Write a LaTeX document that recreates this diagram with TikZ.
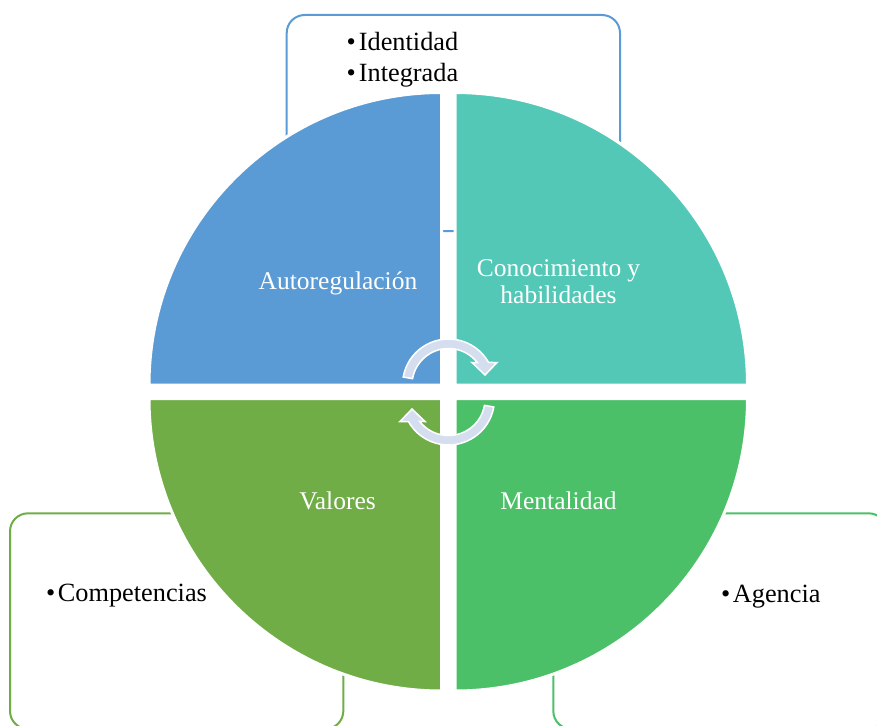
\documentclass[tikz,border=0pt]{standalone}
\usepackage{fontspec}
\setmainfont{Liberation Serif}
\usetikzlibrary{calc}
\definecolor{blueQ}{RGB}{91,155,213}
\definecolor{tealQ}{RGB}{83,200,183}
\definecolor{greenQ}{RGB}{112,173,71}
\definecolor{mentQ}{RGB}{75,192,104}
\definecolor{arrowc}{RGB}{213,222,239}
\tikzset{
  quad/.style={draw=white, line width=3pt},
  sidebox/.style={fill=white, line width=2pt, rounded corners=18pt},
  lbl/.style={inner sep=0pt, font=\fontsize{25.5}{30}\selectfont},
  blbl/.style={inner sep=0pt, font=\fontsize{26.3}{30}\selectfont},
  wlbl/.style={lbl, text=white},
  arrowfill/.style={fill=arrowc, draw=white, line width=1.5pt, line join=miter},
  cyclearrow/.pic={
    \path[arrowfill] (-170:46) arc[start angle=-170,end angle=-29.3,radius=46]
      -- (48.5,-22.5) -- (36.5,-10) -- (23.5,-22.5)
      -- (-38:36.5) arc[start angle=-38,end angle=-170,radius=36.5] -- cycle;
  }
}
\begin{document}
\begin{tikzpicture}[x=1pt,y=-1pt]
\useasboundingbox (0,0) rectangle (877,725);
\clip (0,0) rectangle (877,725);
% side boxes
\draw[sidebox, draw=blueQ] (286.7,15) rectangle (620,231);
\draw[sidebox, draw=greenQ] (10,513.3) rectangle (343.3,729);
\draw[sidebox, draw=mentQ] (553.3,513.3) rectangle (886.6,729);
% quadrants
\coordinate (cB) at (441.5,385);
\coordinate (cT) at (455,385);
\coordinate (cG) at (441.5,398.5);
\coordinate (cM) at (455,398.5);
\fill[quad, fill=blueQ] (cB) -- ($(cB)+(180:292.5)$) arc[start angle=180,end angle=270,radius=292.5] -- cycle;
\fill[quad, fill=tealQ] (cT) -- ($(cT)+(270:292.5)$) arc[start angle=270,end angle=360,radius=292.5] -- cycle;
\fill[quad, fill=greenQ] (cG) -- ($(cG)+(90:292.5)$) arc[start angle=90,end angle=180,radius=292.5] -- cycle;
\fill[quad, fill=mentQ] (cM) -- ($(cM)+(0:292.5)$) arc[start angle=0,end angle=90,radius=292.5] -- cycle;
% cycle arrows
\pic at (448.5,385) {cyclearrow};
\pic[rotate=180] at (448.5,399) {cyclearrow};
% labels
\node[wlbl, anchor=base] (auto) at (338,289.3) {Autoregulación};
\node[wlbl, anchor=base] (con1) at (558.5,276.7) {Conocimiento\hspace{6pt}y};
\node[wlbl, anchor=base] (con2) at (558.5,303.3) {habilidades};
\node[wlbl, anchor=base] (val) at (337.5,509.3) {Valores};
\node[wlbl, anchor=base] (ment) at (558.5,509.3) {Mentalidad};
% bullet texts
\node[blbl, anchor=base west] (id1) at (346.5,50) {•\hspace{3pt}Identidad};
\node[blbl, anchor=base west] (id2) at (346.5,81.7) {•\hspace{3pt}Integrada};
\node[blbl, anchor=base west] (comp) at (46,601.7) {•\hspace{2.5pt}Competencias};
\node[blbl, anchor=base west] (agen) at (721,602) {•\hspace{2.5pt}Agencia};
\end{tikzpicture}
\end{document}
